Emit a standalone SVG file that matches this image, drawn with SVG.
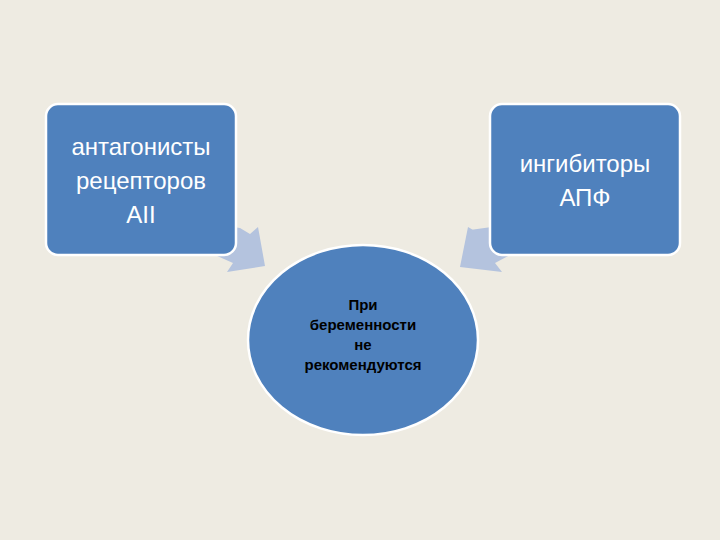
<svg xmlns="http://www.w3.org/2000/svg" width="720" height="540" viewBox="0 0 720 540">
<style>
.box{fill:#4f81bd;stroke:#fff;stroke-width:2.5}
.arr{fill:#b4c3de}
.t{font-family:"Liberation Sans",Arial,sans-serif;fill:#fff;text-anchor:middle}
.s{font-family:"Liberation Sans",Arial,sans-serif;fill:#000;text-anchor:middle;font-size:15px;font-weight:bold}
</style>
<rect width="720" height="540" fill="#eeebe2"/>
<g id="connectors">
<polygon class="arr" points="220,225 240,228 250,234 258,227 265,266 227,272 233,263 215,255"/>
<polygon class="arr" points="506,225 470,230 480,234 468,227 460,267 502,272 495,263 510,255"/>
</g>
<g id="left">
<rect class="box" x="46" y="104" width="190" height="151" rx="12"/>
<text class="t" font-size="24"><tspan x="141" y="155">антагонисты</tspan><tspan x="141" y="189">рецепторов</tspan><tspan x="141" y="223">АII</tspan></text>
</g>
<g id="right">
<rect class="box" x="490" y="104" width="190" height="151" rx="12"/>
<text class="t" font-size="24"><tspan x="585" y="172">ингибиторы</tspan><tspan x="585" y="206">АПФ</tspan></text>
</g>
<g id="center">
<ellipse class="box" cx="363" cy="340" rx="115" ry="95"/>
<text class="s"><tspan x="363" y="310">При</tspan><tspan x="363" y="330">беременности</tspan><tspan x="363" y="350">не</tspan><tspan x="363" y="370">рекомендуются</tspan></text>
</g>
</svg>
